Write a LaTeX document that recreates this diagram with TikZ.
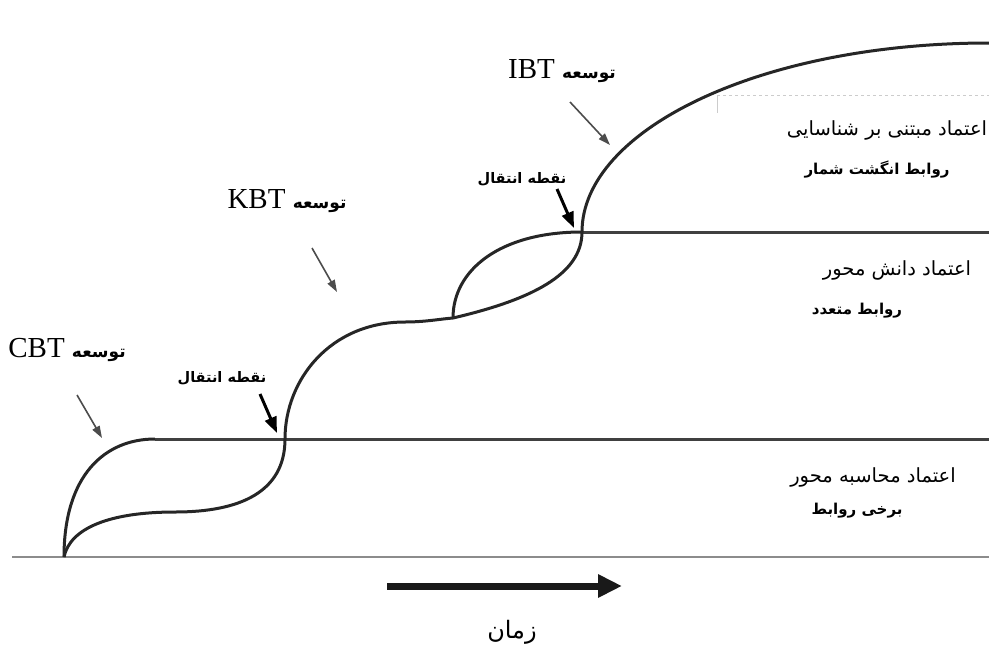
\documentclass[tikz,border=0pt]{standalone}
\usepackage{fontspec}
\usepackage{tikz}
\usetikzlibrary{arrows.meta}
\setmainfont{Liberation Serif}
\newfontfamily\arabicfont[Script=Arabic]{DejaVu Sans}
\TeXXeTstate=1
\tikzstyle{curve}=[line width=3pt, draw=black!85]
\tikzstyle{level}=[line width=3pt, draw=black!75]
\tikzstyle{ground}=[line width=2pt, draw=black!45]
\tikzstyle{trust}=[inner sep=0pt, font=\arabicfont\fontsize{19.5}{24}\selectfont]
\tikzstyle{rel}=[inner sep=0pt, font=\arabicfont\bfseries\fontsize{15}{18}\selectfont]
\tikzstyle{dev}=[inner sep=0pt, font=\fontsize{29}{32}\selectfont]
\tikzstyle{trans}=[inner sep=0pt, font=\arabicfont\bfseries\fontsize{14.5}{17}\selectfont]
\tikzstyle{devarrow}=[-{Triangle[length=12pt,width=8pt]}, line width=1.6pt, draw=black!70, fill=black!70]
\tikzstyle{transarrow}=[-{Triangle[length=16pt,width=12pt]}, line width=3pt]
\tikzstyle{timearrow}=[-{Triangle[length=24pt,width=22pt]}, line width=7pt, draw=black!90]
\newcommand{\devword}{{\arabicfont\bfseries\fontsize{17}{20}\selectfont\beginR توسعه\endR}}
\begin{document}
\begin{tikzpicture}[x=1pt,y=-1pt]
				\useasboundingbox (0,0) rectangle (989,646);
				
				%The levels
				\coordinate (o) at (64,557);
				\coordinate (c1) at (155,439);
				\coordinate (f1) at (175,512);
				\coordinate (x1) at (285,439);
				\coordinate (f2) at (405,322);
				\coordinate (s2) at (453,318);
				\coordinate (x2) at (582,232);
				\coordinate (top) at (989,43);
				\draw[ground] (12,557) -- (989,557);
				\draw[level] (c1) -- (989,439);
				\draw[level] (x2) -- (989,232);
				\draw[black!20, dashed, line width=1pt] (717,95) -- (989,95);
				\draw[black!20, line width=1pt] (717,95) -- (717,113);
				
				%The growth curves
				\draw[curve] (o) .. controls (64,475) and (105,439) .. (c1);
				\draw[curve] (o) .. controls (70,528) and (110,512) .. (f1)
					.. controls (240,512) and (285,492) .. (x1)
					.. controls (285,380) and (330,322) .. (f2)
					.. controls (425,322) and (440,319) .. (s2)
					.. controls (530,300) and (582,275) .. (x2)
					.. controls (582,130) and (760,43) .. (top);
				\draw[curve] (s2) .. controls (453,270) and (500,232) .. (x2);
				
				%The development labels
				\draw (67,350) node[dev] (cbt) {CBT \devword};
				\draw (287,201) node[dev] (kbt) {KBT \devword};
				\draw (562,71) node[dev] (ibt) {IBT \devword};
				\coordinate (cbt-t) at (77,395);
				\coordinate (cbt-h) at (102,438);
				\coordinate (kbt-t) at (312,248);
				\coordinate (kbt-h) at (337,292);
				\coordinate (ibt-t) at (570,102);
				\coordinate (ibt-h) at (610,145);
				\draw[devarrow] (cbt-t) -- (cbt-h);
				\draw[devarrow] (kbt-t) -- (kbt-h);
				\draw[devarrow] (ibt-t) -- (ibt-h);
				
				%The transition points
				\draw (222,378) node[trans] (t1) {\beginR نقطه انتقال\endR};
				\draw (522,179) node[trans] (t2) {\beginR نقطه انتقال\endR};
				\coordinate (t1-t) at (260,394);
				\coordinate (t2-t) at (557,189);
				\draw[transarrow] (t1-t) -- (277,433);
				\draw[transarrow] (t2-t) -- (574,228);
				
				%The trust levels
				\draw (887,130) node[trust] (l3) {\beginR اعتماد مبتنی بر شناسایی\endR};
				\draw (877,170) node[rel] (r3) {\beginR روابط انگشت شمار\endR};
				\draw (897,270) node[trust] (l2) {\beginR اعتماد دانش محور\endR};
				\draw (857,311) node[rel] (r2) {\beginR روابط متعدد\endR};
				\draw (873,477) node[trust] (l1) {\beginR اعتماد محاسبه محور\endR};
				\draw (857,511) node[rel] (r1) {\beginR برخی روابط\endR};
				
				%The time axis
				\coordinate (t-a) at (387,586);
				\coordinate (t-b) at (622,586);
				\draw[timearrow] (t-a) -- (t-b);
				\draw (512,632) node[trust, font=\arabicfont\fontsize{24}{28}\selectfont] (time) {\beginR زمان\endR};
			\end{tikzpicture}
\end{document}
